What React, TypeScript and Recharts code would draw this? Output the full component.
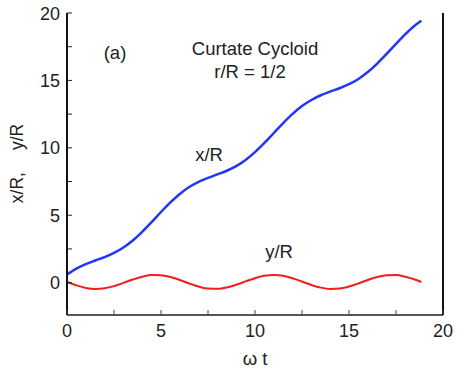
import React from "react";
import { LineChart, Line, XAxis, YAxis } from "recharts";

const omegaT = [0, 0.5, 1.0, 1.5, 2.0, 2.5, 3.0, 3.5, 4.0, 4.5, 5.0, 5.5, 6.0, 6.5, 7.0, 7.5, 8.0, 8.5, 9.0, 9.5, 10.0, 10.5, 11.0, 11.5, 12.0, 12.5, 13.0, 13.5, 14.0, 14.5, 15.0, 15.5, 16.0, 16.5, 17.0, 17.5, 18.0, 18.5, 18.85];
const xOverR = [0.6, 1.04, 1.37, 1.64, 1.89, 2.2, 2.61, 3.13, 3.77, 4.49, 5.24, 5.95, 6.58, 7.09, 7.48, 7.77, 8.03, 8.3, 8.64, 9.1, 9.68, 10.36, 11.1, 11.84, 12.52, 13.1, 13.55, 13.9, 14.17, 14.42, 14.72, 15.11, 15.62, 16.25, 16.96, 17.71, 18.43, 19.07, 19.42];
const yOverR = [0.05, -0.2, -0.39, -0.47, -0.42, -0.26, -0.02, 0.23, 0.44, 0.56, 0.55, 0.42, 0.2, -0.06, -0.29, -0.44, -0.46, -0.36, -0.16, 0.09, 0.33, 0.51, 0.57, 0.51, 0.33, 0.08, -0.17, -0.37, -0.47, -0.44, -0.29, -0.06, 0.2, 0.42, 0.55, 0.56, 0.44, 0.23, 0.05];

const xTicks = [0, 2.5, 5, 7.5, 10, 12.5, 15, 17.5, 20];
const yTicks = [0, 2.5, 5, 7.5, 10, 12.5, 15, 17.5, 20];
const xDomain = [0, 20];
const yDomain = [-2.4, 20];

const data = omegaT.map((t, i) => ({ t, x: xOverR[i], y: yOverR[i] }));

const W = 457;
const H = 375;
const M = { top: 13, right: 14, bottom: 60, left: 67 };
const plotTop = M.top;
const plotBottom = H - M.bottom;
const plotLeft = M.left;
const plotRight = W - M.right;
const FONT = "'Liberation Sans', Arial, sans-serif";
const TXT = "#222";
const TL = 5;

const isMajor = (v: number) => Math.abs(v % 5) < 1e-6;

const BottomTick = (props: any) => {
  const { x, payload } = props;
  return (
    <g>
      <line x1={x} x2={x} y1={plotBottom} y2={plotBottom - TL} stroke="#444" strokeWidth={1} />
      {isMajor(payload.value) && (
        <text x={x} y={plotBottom + 22} textAnchor="middle" fontSize={18} fontFamily={FONT} fill={TXT}>
          {payload.value}
        </text>
      )}
    </g>
  );
};

const TopTick = (props: any) => {
  const { x } = props;
  return <line x1={x} x2={x} y1={plotTop} y2={plotTop + TL} stroke="#444" strokeWidth={1} />;
};

const LeftTick = (props: any) => {
  const { y, payload } = props;
  return (
    <g>
      <line x1={plotLeft} x2={plotLeft + TL} y1={y} y2={y} stroke="#222" strokeWidth={1} />
      {isMajor(payload.value) && (
        <text x={plotLeft - 7} y={y + 6.5} textAnchor="end" fontSize={18} fontFamily={FONT} fill={TXT}>
          {payload.value}
        </text>
      )}
    </g>
  );
};

const RightTick = (props: any) => {
  const { y } = props;
  return <line x1={plotRight} x2={plotRight - TL} y1={y} y2={y} stroke="#222" strokeWidth={1} />;
};

export default function App() {
  return (
    <div style={{ position: "absolute", left: 0, top: 0, width: W, height: H, background: "#fff" }}>
      <LineChart width={W} height={H} data={data} margin={{ top: M.top, right: 0, bottom: 0, left: 0 }}>
        <XAxis
          dataKey="t"
          type="number"
          domain={xDomain}
          ticks={xTicks}
          interval={0}
          height={M.bottom}
          axisLine={{ stroke: "#555", strokeWidth: 2 }}
          tickLine={false}
          tick={<BottomTick />}
        />
        <XAxis
          xAxisId="top"
          dataKey="t"
          type="number"
          orientation="top"
          domain={xDomain}
          ticks={xTicks}
          interval={0}
          height={0}
          axisLine={{ stroke: "#555", strokeWidth: 2 }}
          tickLine={false}
          tick={<TopTick />}
        />
        <YAxis
          type="number"
          domain={yDomain}
          ticks={yTicks}
          interval={0}
          width={M.left}
          axisLine={{ stroke: "#111", strokeWidth: 2 }}
          tickLine={false}
          tick={<LeftTick />}
        />
        <YAxis
          yAxisId="right"
          orientation="right"
          type="number"
          domain={yDomain}
          ticks={yTicks}
          interval={0}
          width={M.right}
          axisLine={{ stroke: "#111", strokeWidth: 2 }}
          tickLine={false}
          tick={<RightTick />}
        />
        <Line type="monotone" dataKey="x" stroke="#2236f5" strokeWidth={2.5} dot={false} isAnimationActive={false} />
        <Line type="monotone" dataKey="y" stroke="#f21c1c" strokeWidth={2} dot={false} isAnimationActive={false} />
      </LineChart>
      <svg width={W} height={H} style={{ position: "absolute", left: 0, top: 0, pointerEvents: "none" }}>
        <g fontFamily={FONT} fill={TXT} fontSize={18.5}>
          <text x={115} y={59} textAnchor="middle">(a)</text>
          <text x={255} y={55} textAnchor="middle">Curtate Cycloid</text>
          <text x={250} y={77.5} textAnchor="middle">r/R = 1/2</text>
          <text x={209} y={160.5} textAnchor="middle">x/R</text>
          <text x={279} y={258} textAnchor="middle">y/R</text>
          <text x={255} y={365} textAnchor="middle">ω t</text>
          <text x={0} y={0} fontSize={17.5} textAnchor="middle" transform="translate(23,163.5) rotate(-90)">
            x/R,<tspan dx={22}>y/R</tspan>
          </text>
        </g>
      </svg>
    </div>
  );
}
